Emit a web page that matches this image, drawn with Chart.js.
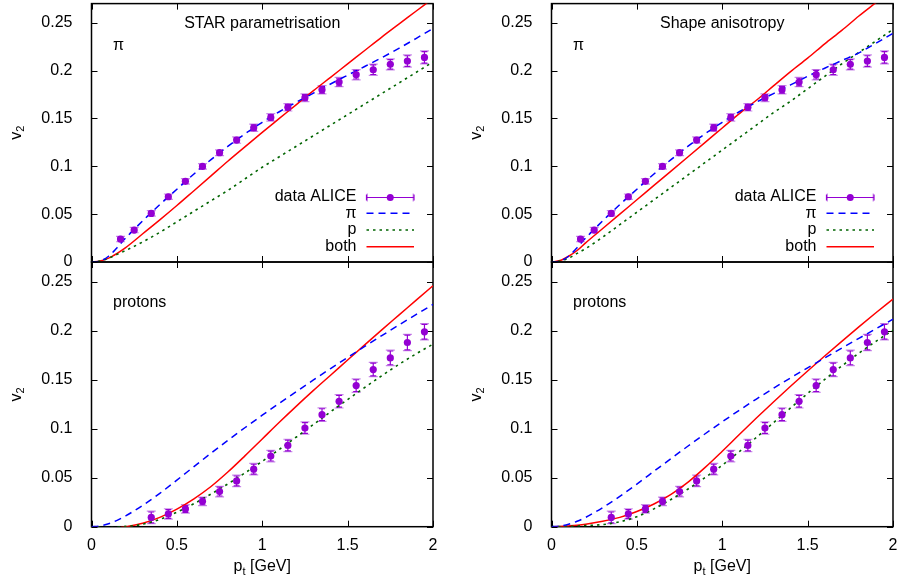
<!DOCTYPE html>
<html><head><meta charset="utf-8">
<script src="https://cdn.jsdelivr.net/npm/chart.js@4/dist/chart.umd.min.js"></script>
<style>
html,body{margin:0;padding:0;background:#fff;}
#wrap{position:relative;width:898px;height:584px;overflow:hidden;background:#fff}
canvas{position:absolute;left:0;top:0;}
</style></head><body><div id="wrap">
<canvas id="c0" width="898" height="584"></canvas>
<canvas id="c1" width="898" height="584"></canvas>
<canvas id="c2" width="898" height="584"></canvas>
<canvas id="c3" width="898" height="584"></canvas>
</div>
<script>
// ---------------- data ----------------
const curveX = [0,0.05,0.1,0.15,0.2,0.3,0.4,0.5,0.6,0.7,0.8,0.9,1.0,1.1,1.2,1.3,1.4,1.5,1.6,1.7,1.8,1.9,2.0];

// top-left: STAR parametrisation, pions
const starPionPi   = [0,0.001,0.006,0.015,0.025,0.043,0.060,0.076,0.092,0.107,0.121,0.134,0.146,0.157,0.167,0.1765,0.186,0.1952,0.2043,0.2135,0.2232,0.2335,0.244];
const starPionP    = [0,0.001,0.004,0.008,0.012,0.021,0.031,0.042,0.053,0.064,0.075,0.087,0.099,0.110,0.121,0.132,0.143,0.154,0.165,0.176,0.187,0.198,0.209];
const starPionBoth = [0,0.001,0.004,0.009,0.015,0.0295,0.044,0.059,0.0745,0.090,0.1055,0.1205,0.1355,0.150,0.1645,0.179,0.193,0.207,0.221,0.235,0.2485,0.262,0.2755];
// top-right: Shape anisotropy, pions
const shapePionPi   = [0,0.001,0.006,0.015,0.025,0.043,0.060,0.076,0.092,0.107,0.121,0.134,0.146,0.157,0.167,0.176,0.185,0.194,0.2025,0.2105,0.2185,0.2285,0.239];
const shapePionP    = [0,0.001,0.004,0.009,0.014,0.026,0.039,0.052,0.065,0.078,0.091,0.104,0.117,0.130,0.143,0.156,0.168,0.181,0.194,0.207,0.219,0.231,0.243];
const shapePionBoth = [0,0.0015,0.006,0.012,0.020,0.035,0.050,0.065,0.080,0.095,0.110,0.125,0.140,0.155,0.169,0.184,0.199,0.213,0.228,0.242,0.257,0.271,0.285];
// bottom-left: STAR parametrisation, protons
const starProtPi   = [0,0.0008,0.003,0.0065,0.011,0.0218,0.034,0.0475,0.0613,0.075,0.0883,0.1012,0.1137,0.1259,0.1379,0.1497,0.1613,0.1727,0.1839,0.1949,0.2057,0.2163,0.2267];
const starProtP    = [0,-0.0005,-0.001,-0.0005,0.0003,0.0025,0.0075,0.0148,0.0235,0.0333,0.0438,0.055,0.0667,0.0788,0.0915,0.1043,0.1172,0.1297,0.142,0.154,0.1655,0.1762,0.1862];
const starProtBoth = [0,-0.001,-0.002,-0.0015,0,0.0035,0.0095,0.018,0.0285,0.041,0.056,0.0725,0.0895,0.1065,0.123,0.139,0.1545,0.170,0.1855,0.2008,0.2158,0.2308,0.2458];
// bottom-right: Shape anisotropy, protons
const shapeProtPi   = [0,0.0007,0.0025,0.0055,0.0095,0.0195,0.031,0.0435,0.0565,0.0695,0.0823,0.0948,0.107,0.1188,0.1302,0.1412,0.1518,0.1621,0.1722,0.1822,0.1921,0.2019,0.2116];
const shapeProtP    = [0,0.0001,0.0003,0.0007,0.0012,0.0022,0.005,0.0102,0.0182,0.0278,0.0385,0.0502,0.0628,0.0766,0.0911,0.1061,0.1211,0.1359,0.1502,0.1639,0.1769,0.1891,0.2004];
const shapeProtBoth = [0,0.0002,0.0008,0.0015,0.0025,0.0055,0.0095,0.0155,0.0232,0.033,0.0455,0.0605,0.077,0.094,0.1108,0.1272,0.1432,0.1588,0.1741,0.1891,0.2038,0.2182,0.2322];

// ALICE data
const pionX   = [0.17,0.25,0.35,0.45,0.55,0.65,0.75,0.85,0.95,1.05,1.15,1.25,1.35,1.45,1.55,1.65,1.75,1.85,1.95];
const pionV2  = [0.024,0.0334,0.0508,0.0682,0.0843,0.0999,0.1142,0.1274,0.1403,0.1511,0.1616,0.1717,0.180,0.188,0.1957,0.2009,0.2065,0.210,0.2138];
const pionErr = [0.002,0.002,0.002,0.002,0.002,0.002,0.0022,0.0025,0.003,0.003,0.003,0.0032,0.0035,0.004,0.0045,0.005,0.005,0.0055,0.006];
const protonX   = [0.35,0.45,0.55,0.65,0.75,0.85,0.95,1.05,1.15,1.25,1.35,1.45,1.55,1.65,1.75,1.85,1.95];
const protonV2  = [0.0095,0.013,0.0181,0.0259,0.0358,0.0467,0.0587,0.072,0.0829,0.1006,0.1143,0.1279,0.1439,0.1603,0.1722,0.1879,0.1988];
const protonErr = [0.0055,0.0045,0.0035,0.0035,0.0045,0.005,0.005,0.005,0.0055,0.0055,0.006,0.006,0.006,0.0065,0.007,0.0075,0.0075];

const xTickValues = [0,0.5,1,1.5,2];
const xTickLabels = ['0','0.5','1','1.5','2'];
const yTickValues = [0,0.05,0.1,0.15,0.2,0.25];
const yTickLabels = ['0','0.05','0.1','0.15','0.2','0.25'];
const seriesNames = ['data ALICE','π','p','both'];
const panelTitles = ['STAR parametrisation','Shape anisotropy'];
const panelLabels = ['π','protons'];

// ---------------- styling ----------------
const FONT = "'Liberation Sans', Arial, Helvetica, sans-serif";
const C_DATA = '#9400d3', C_DATA_L = '#c88ae8';
const C_PI = '#0000ff', C_P = '#006400', C_BOTH = '#ff0000';
const DASH_PI = [7,5], DASH_P = [2.5,4];
Chart.defaults.font.family = FONT;
Chart.defaults.font.size = 16;
Chart.defaults.color = '#000';

const toPts = (xs, ys) => xs.map((x,i)=>({x, y: ys[i]}));

const panelPlugin = {
  id: 'panelDeco',
  beforeDatasetsDraw(chart) {
    const o = chart.options.plugins.panelDeco;
    const {ctx, chartArea: a, scales: {x, y}} = chart;
    ctx.save();
    ctx.strokeStyle = '#000'; ctx.lineWidth = 1;
    ctx.beginPath();
    const L = 6;
    xTickValues.forEach(v => {
      const px = Math.round(x.getPixelForValue(v)) + 0.5;
      ctx.moveTo(px, a.bottom); ctx.lineTo(px, a.bottom - L);
      ctx.moveTo(px, a.top); ctx.lineTo(px, a.top + L);
    });
    yTickValues.forEach(v => {
      const py = Math.round(y.getPixelForValue(v)) + 0.5;
      ctx.moveTo(a.left, py); ctx.lineTo(a.left + L, py);
      ctx.moveTo(a.right, py); ctx.lineTo(a.right - L, py);
    });
    ctx.stroke();
    ctx.lineWidth = 1.5;
    ctx.strokeRect(a.left, a.top, a.right - a.left, a.bottom - a.top);
    const xs = o.errX, vs = o.errV, es = o.errE;
    xs.forEach((xv, i) => {
      const px = x.getPixelForValue(xv);
      const p1 = y.getPixelForValue(vs[i] - es[i]);
      const p2 = y.getPixelForValue(vs[i] + es[i]);
      ctx.strokeStyle = C_DATA_L; ctx.lineWidth = 1.2;
      ctx.beginPath();
      ctx.moveTo(px - 4.5, p1 + 0.8); ctx.lineTo(px + 4.5, p1 + 0.8);
      ctx.moveTo(px - 4.5, p2 - 0.8); ctx.lineTo(px + 4.5, p2 - 0.8);
      ctx.stroke();
      ctx.strokeStyle = C_DATA; ctx.lineWidth = 1.2;
      ctx.beginPath();
      ctx.moveTo(px, p1); ctx.lineTo(px, p2);
      ctx.moveTo(px - 3, p1); ctx.lineTo(px + 3, p1);
      ctx.moveTo(px - 3, p2); ctx.lineTo(px + 3, p2);
      ctx.stroke();
    });
    ctx.restore();
  },
  afterDraw(chart) {
    const o = chart.options.plugins.panelDeco;
    const {ctx, chartArea: a} = chart;
    ctx.save();
    ctx.fillStyle = '#000';
    ctx.font = '16px ' + FONT;
    ctx.textBaseline = 'middle';
    if (o.title) { ctx.textAlign = 'center'; ctx.fillText(o.title, (a.left + a.right) / 2, a.top + 20); }
    ctx.textAlign = 'left';
    ctx.fillText(o.label, a.left + 21.5, a.top + o.labelDy);
    ctx.save();
    ctx.translate(a.left - 74.5, (a.top + a.bottom) / 2);
    ctx.rotate(-Math.PI / 2);
    ctx.textAlign = 'left';
    ctx.font = '16px ' + FONT;
    const wv = ctx.measureText('v').width;
    ctx.font = '11px ' + FONT;
    const w2 = ctx.measureText('2').width;
    const sx = -(wv + w2) / 2;
    ctx.font = '16px ' + FONT; ctx.fillText('v', sx, 0);
    ctx.font = '11px ' + FONT; ctx.fillText('2', sx + wv, 4);
    ctx.restore();
    if (o.xTitle) {
      ctx.textAlign = 'left';
      ctx.font = '16px ' + FONT;
      const wp = ctx.measureText('p').width, wr = ctx.measureText(' [GeV]').width;
      ctx.font = '11px ' + FONT;
      const wt = ctx.measureText('t').width;
      let sx2 = (a.left + a.right) / 2 - (wp + wt + wr) / 2;
      const yy = 567;
      ctx.font = '16px ' + FONT; ctx.fillText('p', sx2, yy);
      ctx.font = '11px ' + FONT; ctx.fillText('t', sx2 + wp, yy + 5);
      ctx.font = '16px ' + FONT; ctx.fillText(' [GeV]', sx2 + wp + wt, yy);
    }
    if (o.legend) {
      const tx = a.left + 265, x1 = a.left + 275, x2 = a.left + 322.5;
      const rows = [a.bottom - 65.3, a.bottom - 48.7, a.bottom - 32, a.bottom - 15.3];
      ctx.font = '16px ' + FONT; ctx.textAlign = 'right'; ctx.fillStyle = '#000';
      seriesNames.forEach((n, i) => ctx.fillText(n, tx, rows[i]));
      let ry = Math.round(rows[0]) + 0.5;
      ctx.lineWidth = 1.2; ctx.strokeStyle = C_DATA_L;
      ctx.beginPath(); ctx.moveTo(x1 + 0.8, ry - 4); ctx.lineTo(x1 + 0.8, ry + 4); ctx.moveTo(x2 - 0.8, ry - 4); ctx.lineTo(x2 - 0.8, ry + 4); ctx.stroke();
      ctx.strokeStyle = C_DATA;
      ctx.beginPath(); ctx.moveTo(x1, ry); ctx.lineTo(x2, ry); ctx.moveTo(x1, ry - 3); ctx.lineTo(x1, ry + 3); ctx.moveTo(x2, ry - 3); ctx.lineTo(x2, ry + 3); ctx.stroke();
      ctx.fillStyle = C_DATA; ctx.beginPath(); ctx.arc((x1 + x2) / 2, ry, 3.5, 0, 2 * Math.PI); ctx.fill();
      const sample = (r, col, dash) => {
        ctx.strokeStyle = col; ctx.lineWidth = 1.5; ctx.setLineDash(dash);
        ctx.beginPath(); ctx.moveTo(x1, r); ctx.lineTo(x2, r); ctx.stroke(); ctx.setLineDash([]);
      };
      sample(rows[1], C_PI, DASH_PI);
      sample(rows[2], C_P, DASH_P);
      sample(rows[3], C_BOTH, []);
    }
    ctx.restore();
  }
};

function makePanel(id, box, d) {
  const YW = 60, XH = d.bottomRow ? 30 : 0;
  const padding = {
    left: box.left - YW,
    right: 898 - box.right,
    top: box.top,
    bottom: 584 - box.bottom - XH
  };
  const line = (ys, col, w, dash) => ({ data: toPts(curveX, ys), borderColor: col, borderWidth: w, borderDash: dash,
    pointRadius: 0, cubicInterpolationMode: 'monotone', fill: false, clip: 0 });
  return new Chart(document.getElementById(id), {
    type: 'line',
    data: {
      datasets: [
        { data: toPts(d.dataX, d.dataV), showLine: false, pointRadius: 3.6, pointHoverRadius: 3.6,
          pointBackgroundColor: C_DATA, pointBorderWidth: 0, borderColor: C_DATA, clip: false },
        line(d.pi, C_PI, 1.5, DASH_PI),
        line(d.p, C_P, 1.6, DASH_P),
        line(d.both, C_BOTH, 1.5, [])
      ]
    },
    options: {
      responsive: false, animation: false, devicePixelRatio: 1,
      layout: { padding },
      events: [],
      scales: {
        x: {
          type: 'linear', min: 0, max: 2, display: d.bottomRow,
          grid: { display: false }, border: { display: false },
          ticks: { stepSize: 0.5, padding: 1, maxRotation: 0, includeBounds: false,
                   font: { size: 16 }, color: '#000',
                   callback: (v) => { const k = xTickValues.indexOf(v); return k < 0 ? '' : xTickLabels[k]; } },
          afterFit: (s) => { s.height = XH; s.paddingLeft = 0; s.paddingRight = 0; }
        },
        y: {
          type: 'linear', min: 0, max: 0.27,
          grid: { display: false }, border: { display: false },
          ticks: { stepSize: 0.05, padding: 11, includeBounds: false, font: { size: 16 }, color: '#000',
                   callback: (v) => { const k = yTickValues.findIndex(t => Math.abs(t - v) < 1e-9); return k < 0 ? '' : yTickLabels[k]; } },
          afterFit: (s) => { s.width = YW; s.paddingTop = 0; s.paddingBottom = 0; }
        }
      },
      plugins: {
        legend: { display: false }, tooltip: { enabled: false },
        panelDeco: {
          title: d.title, label: d.label, labelDy: d.labelDy, legend: d.legend, xTitle: d.bottomRow,
          errX: d.dataX, errV: d.dataV, errE: d.dataE
        }
      }
    },
    plugins: [panelPlugin]
  });
}

makePanel('c0', {left: 91.5, right: 433, top: 3.3, bottom: 262},
  {bottomRow: false, title: panelTitles[0], label: panelLabels[0], labelDy: 42, legend: true,
   dataX: pionX, dataV: pionV2, dataE: pionErr, pi: starPionPi, p: starPionP, both: starPionBoth});
makePanel('c1', {left: 551.5, right: 893, top: 3.3, bottom: 262},
  {bottomRow: false, title: panelTitles[1], label: panelLabels[0], labelDy: 42, legend: true,
   dataX: pionX, dataV: pionV2, dataE: pionErr, pi: shapePionPi, p: shapePionP, both: shapePionBoth});
makePanel('c2', {left: 91.5, right: 433, top: 262, bottom: 526.7},
  {bottomRow: true, title: null, label: panelLabels[1], labelDy: 40.5, legend: false,
   dataX: protonX, dataV: protonV2, dataE: protonErr, pi: starProtPi, p: starProtP, both: starProtBoth});
makePanel('c3', {left: 551.5, right: 893, top: 262, bottom: 526.7},
  {bottomRow: true, title: null, label: panelLabels[1], labelDy: 40.5, legend: false,
   dataX: protonX, dataV: protonV2, dataE: protonErr, pi: shapeProtPi, p: shapeProtP, both: shapeProtBoth});
</script>
</body></html>
